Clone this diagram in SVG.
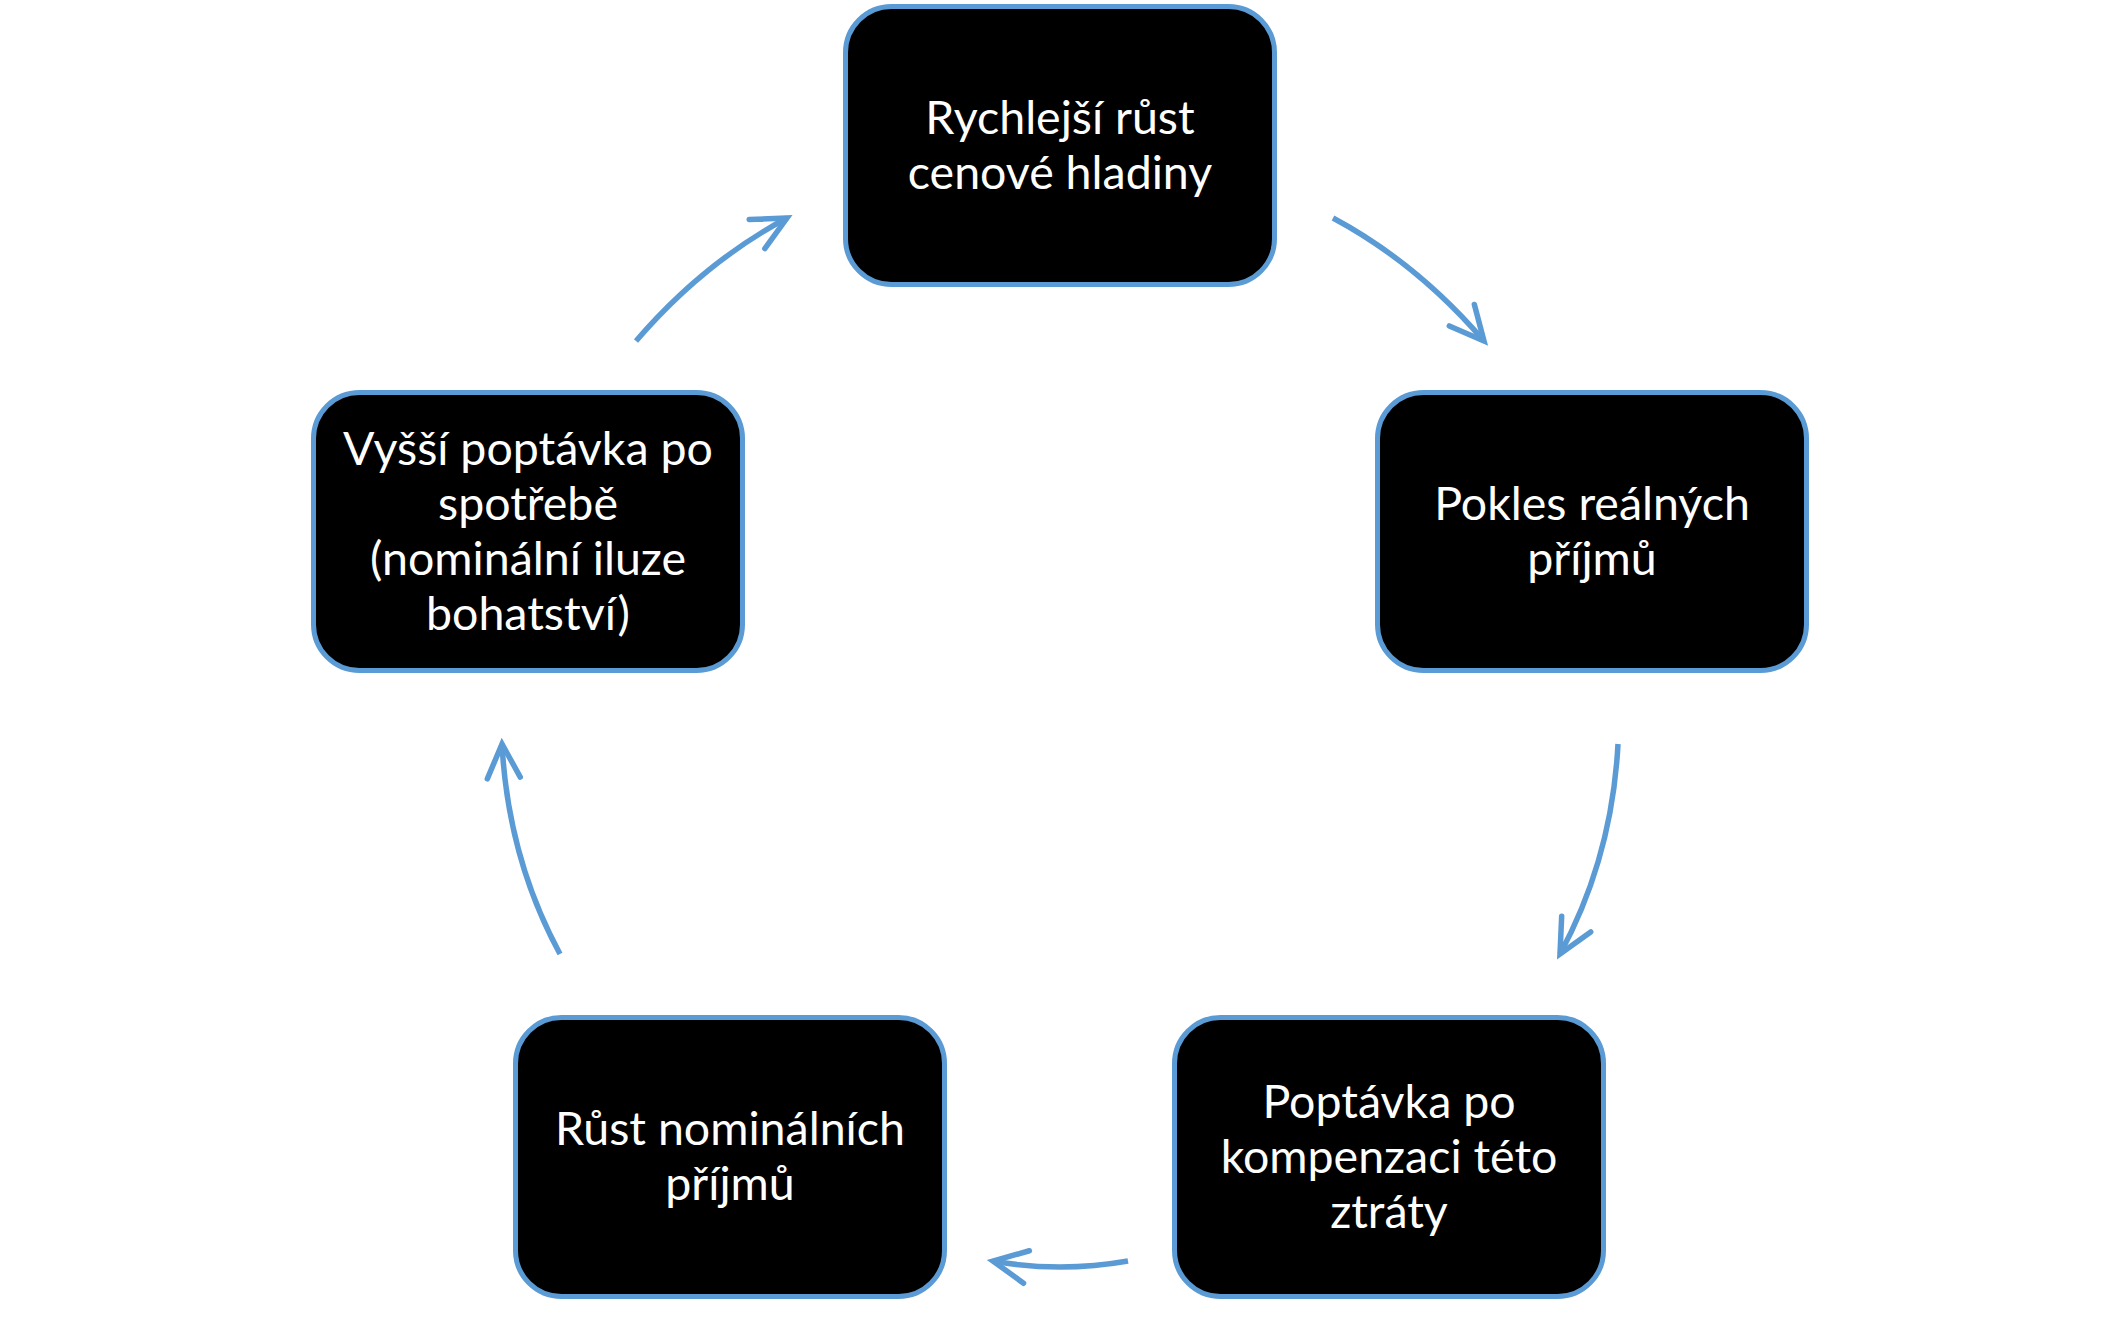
<svg xmlns="http://www.w3.org/2000/svg" width="2126" height="1320" viewBox="0 0 2126 1320">
  <style>
    .box { fill: #000000; stroke: #5B9BD5; stroke-width: 5; }
    .lbl { fill: #FFFFFF; font-family: Lato, "Open Sans", "Liberation Sans", sans-serif; font-size: 46.5px; text-anchor: middle; }
    .conn { fill: none; stroke: #5B9BD5; stroke-width: 5.5; stroke-linecap: butt; }
  </style>
  <defs>
    <marker id="ah" markerUnits="userSpaceOnUse" markerWidth="50" markerHeight="60" viewBox="-40 -30 50 60" refX="0" refY="0" orient="auto" overflow="visible">
      <path d="M-34,-16.5 L0,0 L-34,16.5" fill="none" stroke="#5B9BD5" stroke-width="5.5" stroke-linecap="round" stroke-linejoin="miter"/>
    </marker>
  </defs>
  <rect width="2126" height="1320" fill="#FFFFFF"/>

  <g id="connectors">
    <path class="conn" d="M1333,218 Q1417,263 1484,341" marker-end="url(#ah)"/>
    <path class="conn" d="M1618,744 Q1612,858 1560,954" marker-end="url(#ah)"/>
    <path class="conn" d="M1128,1261 Q1060,1273 993,1261" marker-end="url(#ah)"/>
    <path class="conn" d="M560,954 Q508,858 502,744" marker-end="url(#ah)"/>
    <path class="conn" d="M636,341 Q703,263 787,218" marker-end="url(#ah)"/>
  </g>

  <g id="node-rychlejsi-rust">
    <rect class="box" x="845.5" y="6.5" width="429" height="278" rx="46" ry="46"/>
    <text class="lbl" x="1060" y="133.5">Rychlejší růst</text>
    <text class="lbl" x="1060" y="188.5">cenové hladiny</text>
  </g>

  <g id="node-pokles-realnych">
    <rect class="box" x="1377.5" y="392.5" width="429" height="278" rx="46" ry="46"/>
    <text class="lbl" x="1592" y="519.5">Pokles reálných</text>
    <text class="lbl" x="1592" y="574.5">příjmů</text>
  </g>

  <g id="node-poptavka-kompenzace">
    <rect class="box" x="1174.5" y="1017.5" width="429" height="279" rx="46" ry="46"/>
    <text class="lbl" x="1389" y="1117.5">Poptávka po</text>
    <text class="lbl" x="1389" y="1172.5">kompenzaci této</text>
    <text class="lbl" x="1389" y="1227.5">ztráty</text>
  </g>

  <g id="node-rust-nominalnich">
    <rect class="box" x="515.5" y="1017.5" width="429" height="279" rx="46" ry="46"/>
    <text class="lbl" x="730" y="1145">Růst nominálních</text>
    <text class="lbl" x="730" y="1200">příjmů</text>
  </g>

  <g id="node-vyssi-poptavka">
    <rect class="box" x="313.5" y="392.5" width="429" height="278" rx="46" ry="46"/>
    <text class="lbl" x="528" y="465">Vyšší poptávka po</text>
    <text class="lbl" x="528" y="520">spotřebě</text>
    <text class="lbl" x="528" y="575">(nominální iluze</text>
    <text class="lbl" x="528" y="630">bohatství)</text>
  </g>
</svg>
